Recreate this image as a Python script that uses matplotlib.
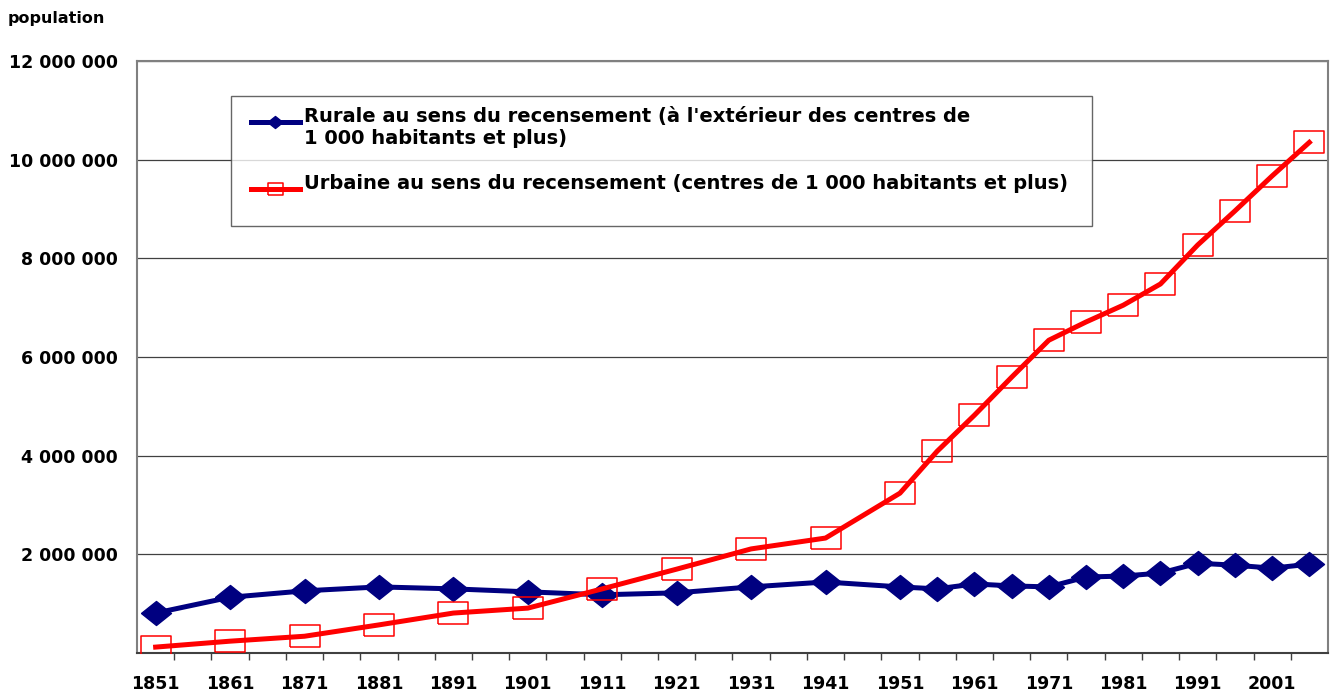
import matplotlib
matplotlib.use("Agg")
import matplotlib.pyplot as plt
from matplotlib.ticker import FixedLocator, FuncFormatter
from matplotlib.legend_handler import HandlerLine2D

years = [1851, 1861, 1871, 1881, 1891, 1901, 1911, 1921, 1931, 1941, 1951,
         1956, 1961, 1966, 1971, 1976, 1981, 1986, 1991, 1996, 2001, 2006]
rurale = [0.81, 1.13, 1.26, 1.34, 1.30, 1.24, 1.18, 1.22, 1.34, 1.44, 1.34,
          1.30, 1.40, 1.36, 1.34, 1.54, 1.56, 1.62, 1.82, 1.78, 1.72, 1.80]
urbaine = [0.12, 0.24, 0.34, 0.57, 0.81, 0.91, 1.30, 1.70, 2.11, 2.33, 3.24,
           4.09, 4.82, 5.59, 6.34, 6.71, 7.05, 7.48, 8.27, 8.96, 9.67, 10.35]
rurale = [v * 1e6 for v in rurale]
urbaine = [v * 1e6 for v in urbaine]

label_r = "Rurale au sens du recensement (à l'extérieur des centres de\n1 000 habitants et plus)"
label_u = "Urbaine au sens du recensement (centres de 1 000 habitants et plus)  \n"
xlabels = list(range(1851, 2002, 10))
yticks = [2e6, 4e6, 6e6, 8e6, 10e6, 12e6]

plt.rcParams['font.family'] = 'DejaVu Sans'
plt.rcParams['font.weight'] = 'bold'

diamond = [(-1, 0), (0, 0.8), (1, 0), (0, -0.8), (-1, 0)]
rect = [(-1, -0.75), (1, -0.75), (1, 0.75), (-1, 0.75), (-1, -0.75)]


# legend handle sitting on the first line of a two-line label
class TopLine(HandlerLine2D):
    def __init__(self, shift, trim, **kw):
        super().__init__(**kw)
        self.shift = shift
        self.trim = trim

    def create_artists(self, legend, orig_handle, xdescent, ydescent,
                       width, height, fontsize, trans):
        return super().create_artists(legend, orig_handle,
                                      xdescent - self.trim, ydescent - self.shift,
                                      width - self.trim, height, fontsize, trans)


fig = plt.figure(figsize=(13.33, 6.93), dpi=100)
ax = fig.add_axes([0.1028, 0.0577, 0.8934, 0.8543])

l1, = ax.plot(years, rurale, color='#000080', lw=3.6, marker=diamond, ms=21.6,
              mfc='#000080', mec='#000080', label=label_r, zorder=3)
l2, = ax.plot(years, urbaine, color='#ff0000', lw=3.6, marker=rect, ms=21.6,
              mfc='none', mec='#ff0000', mew=1.1, label=label_u, zorder=4)

ax.set_xlim(1848.5, 2008.5)
ax.set_ylim(0, 12e6)
ax.xaxis.set_major_locator(FixedLocator(xlabels))
ax.xaxis.set_minor_locator(FixedLocator([1853.5 + 5 * i for i in range(31)]))
ax.tick_params(axis='x', which='major', length=0, pad=16, labelsize=12.5)
ax.tick_params(axis='x', which='minor', length=5, width=1, color='#404040', direction='out')
ax.set_yticks(yticks)
ax.yaxis.set_major_formatter(FuncFormatter(lambda v, p: f"{int(v):,}".replace(",", " ")))
ax.tick_params(axis='y', length=0, pad=14, labelsize=12.5)

ax.grid(axis='y', color='#404040', lw=0.9)
ax.set_axisbelow(True)
for s in ['left', 'top', 'right']:
    ax.spines[s].set_color('#808080')
    ax.spines[s].set_linewidth(1.5)
ax.spines['bottom'].set_color('#404040')
ax.spines['bottom'].set_linewidth(1.5)

fig.text(0.006, 0.974, 'population', fontsize=11.5, fontweight='bold', va='center')

fs = 14
hm = {l1: TopLine(shift=0.6 * fs, trim=6.5), l2: TopLine(shift=0.6 * fs, trim=6.5)}
leg = ax.legend(handles=[l1, l2], loc='upper left', bbox_to_anchor=(0.079, 0.941),
                fontsize=fs, fancybox=False, frameon=True, edgecolor='#404040',
                markerscale=0.5, handlelength=3.0, handletextpad=0.2,
                borderpad=0.55, labelspacing=1.35, borderaxespad=0, handler_map=hm)
leg.get_frame().set_linewidth(1.0)
leg.set_zorder(10)

fig.savefig('out.png', dpi=100)
